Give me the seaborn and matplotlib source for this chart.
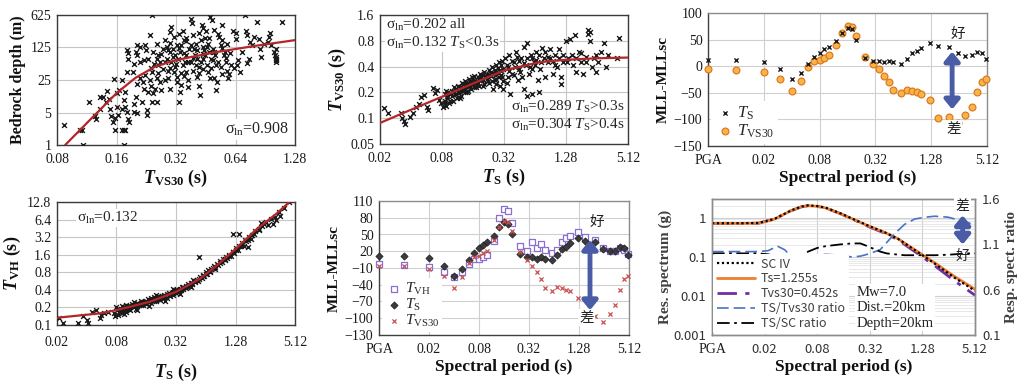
import numpy as np
import pandas as pd
import matplotlib
matplotlib.use("Agg")
import matplotlib.pyplot as plt
import seaborn as sns
from matplotlib.ticker import LogLocator, NullLocator, NullFormatter

# ---------------- data ----------------
# (a) bedrock depth vs T_VS30
depth_pts = [
    (0.087, 2.65), (0.107, 2.07), (0.105, 2.07), (0.108, 1.0), (0.1155, 8.4), (0.124, 4.2), (0.126, 3.7),
    (0.132, 6.0), (0.132, 11), (0.137, 11), (0.141, 8.4), (0.143, 14.5), (0.146, 10), (0.1486, 6.0),
    (0.15, 4.2), (0.153, 3.1), (0.157, 2.07), (0.16, 13), (0.165, 15.5), (0.156, 26.8), (0.171, 25),
    (0.177, 13.8), (0.174, 9.2), (0.177, 6.5), (0.181, 5.1), (0.171, 6.0), (0.174, 2.07), (0.177, 2.07),
    (0.171, 2.07), (0.174, 1.0), (0.161, 6.5), (0.162, 4.35), (0.158, 3.9), (0.181, 110), (0.183, 93),
    (0.182, 72), (0.181, 37), (0.194, 37), (0.197, 56), (0.202, 139), (0.203, 21), (0.2, 11), (0.1955, 7.6),
    (0.1955, 5.1), (0.203, 4.8), (0.184, 3.7), (0.186, 3.1), (0.228, 4.35), (0.229, 5.6), (0.215, 8.4),
    (0.22, 16.3), (0.223, 31.5), (0.22, 66), (0.223, 143), (0.226, 110), (0.2367, 228), (0.241, 617),
    (0.246, 100), (0.248, 56), (0.241, 37), (0.239, 19), (0.241, 8.4), (0.246, 13), (0.2556, 150),
    (0.26, 85), (0.26, 52), (0.257, 27), (0.2656, 22.7), (0.2556, 8.4), (0.27, 15), (0.276, 118),
    (0.281, 180), (0.287, 72), (0.292, 40), (0.29, 27), (0.297, 16), (0.298, 268), (0.303, 345),
    (0.314, 215), (0.31, 118), (0.317, 85), (0.317, 48), (0.322, 29), (0.325, 22.7), (0.3336, 13.8),
    (0.332, 8.4), (0.34, 139), (0.347, 290), (0.353, 180), (0.356, 61), (0.36, 37), (0.366, 25), (0.37, 18),
    (0.38, 522), (0.385, 424), (0.39, 228), (0.395, 118), (0.4, 85), (0.404, 52), (0.41, 29), (0.418, 19),
    (0.424, 11.7), (0.428, 180), (0.434, 374), (0.4365, 72), (0.44, 44), (0.445, 110), (0.4535, 290),
    (0.462, 150), (0.467, 37), (0.471, 100), (0.477, 580), (0.485, 500), (0.49, 66), (0.498, 27),
    (0.509, 15), (0.51, 52), (0.529, 215), (0.539, 139), (0.549, 374), (0.56, 85), (0.571, 61), (0.58, 40),
    (0.593, 34), (0.589, 27), (0.625, 290), (0.64, 258), (0.644, 193), (0.65, 52), (0.66, 66), (0.677, 37),
    (0.69, 100), (0.717, 617), (0.725, 290), (0.728, 228), (0.735, 57), (0.745, 72), (0.76, 164),
    (0.775, 139), (0.79, 215), (0.82, 441), (0.84, 193), (0.85, 118), (0.86, 78), (0.893, 150), (0.93, 164),
    (0.95, 215), (0.96, 258), (0.97, 139), (1.0, 100), (1.01, 85), (1.03, 72), (1.1, 441), (1.03, 118),
    (1.03, 60), (1.03, 66), (1.03, 80), (0.2556, 72), (0.2656, 61), (0.276, 44), (0.287, 125), (0.298, 100),
    (0.303, 61), (0.314, 37), (0.322, 139), (0.328, 72), (0.336, 100), (0.347, 52), (0.36, 85), (0.374, 118),
    (0.38, 61), (0.389, 40), (0.404, 150), (0.41, 72), (0.42, 48), (0.4365, 130), (0.45, 85), (0.458, 52),
    (0.474, 27), (0.49, 118), (0.505, 85), (0.518, 22.7), (0.539, 48), (0.549, 34), (0.566, 100),
    (0.58, 150), (0.61, 52), (0.211, 27), (0.219, 22.7), (0.232, 13.8), (0.2367, 25), (0.25, 16.3),
    (0.211, 61), (0.203, 85), (0.2, 100), (0.21, 130), (0.33, 250), (0.36, 200), (0.42, 260), (0.47, 200),
    (0.5, 300), (0.52, 250), (0.44, 330),
    (0.27, 90), (0.28, 60), (0.29, 110), (0.3, 45), (0.31, 80), (0.32, 55), (0.33, 120), (0.34, 35),
    (0.35, 95), (0.37, 60), (0.38, 140), (0.39, 75), (0.41, 110), (0.43, 60), (0.44, 90), (0.46, 130),
    (0.48, 70), (0.5, 100), (0.52, 60), (0.55, 120), (0.57, 75), (0.6, 95), (0.63, 45), (0.35, 30),
    (0.42, 35), (0.48, 45), (0.3, 160), (0.36, 170), (0.45, 200), (0.55, 180), (0.26, 35), (0.24, 45),
    (0.23, 70), (0.28, 25), (0.34, 20),
]
depth_fit_x = [0.088, 0.12, 0.16, 0.2, 0.25, 0.3, 0.37, 0.5, 0.8, 1.28]
depth_fit_y = [1.0, 3.8, 13, 28, 48, 62, 76, 98, 135, 180]

# (b) T_VS30 vs T_S
tvs30_pts = [
    (0.022, 0.13), (0.024, 0.114), (0.032, 0.114), (0.033, 0.1), (0.034, 0.092), (0.035, 0.086),
    (0.039, 0.104), (0.042, 0.114), (0.045, 0.136), (0.048, 0.146), (0.05, 0.178), (0.054, 0.186),
    (0.057, 0.134), (0.058, 0.125), (0.065, 0.223), (0.069, 0.195), (0.072, 0.213), (0.075, 0.163),
    (0.078, 0.149), (0.081, 0.136),
    (0.085, 0.15), (0.085, 0.16), (0.086, 0.19), (0.087, 0.21), (0.088, 0.14), (0.09, 0.17), (0.091, 0.2),
    (0.093, 0.15), (0.1, 0.18), (0.1, 0.21), (0.102, 0.16), (0.104, 0.23), (0.106, 0.19), (0.11, 0.19),
    (0.11, 0.22), (0.112, 0.17), (0.115, 0.24), (0.12, 0.2), (0.12, 0.23), (0.122, 0.18), (0.125, 0.26),
    (0.127, 0.21), (0.13, 0.22), (0.13, 0.25), (0.133, 0.2), (0.135, 0.27), (0.14, 0.23), (0.14, 0.26),
    (0.142, 0.21), (0.145, 0.29), (0.147, 0.24), (0.15, 0.24), (0.15, 0.27), (0.153, 0.22), (0.155, 0.3),
    (0.16, 0.25), (0.16, 0.28), (0.163, 0.23), (0.165, 0.31), (0.168, 0.26), (0.18, 0.26), (0.18, 0.3),
    (0.183, 0.24), (0.186, 0.33), (0.19, 0.28), (0.2, 0.28), (0.2, 0.32), (0.203, 0.25), (0.206, 0.35),
    (0.21, 0.3), (0.22, 0.29), (0.22, 0.33), (0.225, 0.27), (0.23, 0.37), (0.24, 0.31), (0.24, 0.35),
    (0.243, 0.27), (0.246, 0.4), (0.25, 0.22), (0.26, 0.32), (0.26, 0.37), (0.263, 0.28), (0.266, 0.42),
    (0.27, 0.25), (0.28, 0.34), (0.28, 0.39), (0.284, 0.3), (0.287, 0.45), (0.29, 0.24), (0.3, 0.36),
    (0.3, 0.42), (0.304, 0.3), (0.307, 0.47), (0.31, 0.27), (0.315, 0.22),
    (0.09, 0.18), (0.095, 0.19), (0.105, 0.2), (0.115, 0.2), (0.125, 0.22), (0.135, 0.24), (0.145, 0.25),
    (0.155, 0.26), (0.17, 0.27), (0.19, 0.3), (0.21, 0.31), (0.23, 0.32), (0.25, 0.34), (0.27, 0.35),
    (0.29, 0.37), (0.31, 0.38), (0.095, 0.16), (0.12, 0.17), (0.14, 0.2), (0.17, 0.23), (0.2, 0.24),
    (0.23, 0.26), (0.27, 0.29), (0.3, 0.32),
    (0.33, 0.5), (0.34, 0.26), (0.35, 0.4), (0.35, 0.3), (0.36, 0.55), (0.37, 0.19), (0.38, 0.33),
    (0.4, 0.45), (0.4, 0.32), (0.42, 0.6), (0.44, 0.28), (0.45, 0.38), (0.45, 0.46), (0.47, 0.5),
    (0.48, 0.3), (0.5, 0.67), (0.5, 0.22), (0.52, 0.42), (0.54, 0.75), (0.54, 0.18), (0.56, 0.33),
    (0.58, 0.55), (0.6, 0.19), (0.6, 0.38), (0.62, 0.45), (0.65, 0.6), (0.66, 0.48), (0.68, 0.28),
    (0.7, 0.2), (0.72, 0.38), (0.75, 0.66), (0.78, 0.5), (0.8, 0.3), (0.85, 0.45), (0.9, 0.64), (0.9, 0.5),
    (0.95, 0.33), (1.0, 0.55), (1.05, 0.4), (1.1, 0.65), (1.15, 0.3), (1.15, 0.25), (1.2, 0.45),
    (1.28, 0.8), (1.35, 0.5), (1.4, 0.84), (1.5, 0.42), (1.55, 0.93), (1.6, 0.35), (1.7, 0.6), (1.8, 0.45),
    (1.87, 0.33), (2.0, 0.52), (2.08, 1.07), (2.1, 0.95), (2.2, 0.8), (2.2, 1.02), (2.3, 0.4), (2.5, 0.55),
    (2.5, 0.35), (2.6, 0.45), (2.8, 0.6), (3.0, 0.75), (3.1, 0.4), (3.3, 0.55), (4.0, 0.5), (4.2, 0.86),
    (0.34, 0.42), (0.36, 0.36), (0.38, 0.47), (0.41, 0.4), (0.43, 0.52), (0.46, 0.35), (0.5, 0.44),
    (0.53, 0.5), (0.57, 0.4), (0.6, 0.5), (0.64, 0.42), (0.7, 0.55), (0.74, 0.45), (0.8, 0.6), (0.85, 0.52),
    (0.95, 0.47), (1.0, 0.42), (1.1, 0.5), (1.2, 0.55), (1.3, 0.45), (1.45, 0.55), (1.6, 0.5), (1.8, 0.58),
    (2.0, 0.45), (2.4, 0.5),
]
tvs30_fit_x = [0.02, 0.036, 0.08, 0.16, 0.32, 0.7, 1.28, 2.5, 5.12]
tvs30_fit_y = [0.088, 0.119, 0.178, 0.254, 0.36, 0.45, 0.48, 0.5, 0.51]

# (d) T_VH vs T_S
tvh_pts = [
    (0.021, 0.13), (0.023, 0.11), (0.033, 0.11), (0.041, 0.107), (0.037, 0.14), (0.045, 0.17), (0.05, 0.18),
    (0.054, 0.13), (0.056, 0.15), (0.04, 0.12), (0.06, 0.16), (0.065, 0.17),
    (0.075, 0.16), (0.078, 0.14), (0.08, 0.2), (0.082, 0.15), (0.085, 0.17), (0.088, 0.19), (0.09, 0.16),
    (0.092, 0.21), (0.095, 0.18), (0.098, 0.2), (0.1, 0.17), (0.1, 0.22), (0.105, 0.19), (0.11, 0.21),
    (0.11, 0.18), (0.115, 0.23), (0.12, 0.2), (0.12, 0.22), (0.125, 0.19), (0.13, 0.24), (0.13, 0.21),
    (0.135, 0.23), (0.14, 0.22), (0.14, 0.26), (0.145, 0.24), (0.15, 0.22), (0.15, 0.25), (0.16, 0.26),
    (0.16, 0.23), (0.165, 0.28), (0.17, 0.25), (0.175, 0.27), (0.18, 0.24), (0.18, 0.29), (0.19, 0.27),
    (0.19, 0.3), (0.2, 0.26), (0.2, 0.29), (0.21, 0.28), (0.21, 0.32), (0.22, 0.3), (0.22, 0.27),
    (0.23, 0.31), (0.24, 0.29), (0.24, 0.33), (0.25, 0.31), (0.26, 0.34), (0.26, 0.29), (0.27, 0.36),
    (0.28, 0.32), (0.29, 0.35), (0.3, 0.37), (0.3, 0.33), (0.31, 0.39), (0.32, 0.36), (0.33, 0.4),
    (0.34, 0.38), (0.35, 0.42), (0.36, 0.39), (0.37, 0.44), (0.38, 0.41), (0.4, 0.47), (0.4, 0.43),
    (0.42, 0.5), (0.44, 0.47), (0.45, 0.53), (0.47, 0.52), (0.48, 0.58), (0.5, 0.55), (0.52, 0.6),
    (0.54, 0.57), (0.56, 0.67), (0.58, 0.64), (0.6, 0.72), (0.62, 0.68), (0.64, 0.8), (0.66, 0.75),
    (0.68, 0.86), (0.7, 0.82), (0.72, 0.9), (0.75, 0.95), (0.78, 1.02), (0.8, 0.92), (0.83, 1.1),
    (0.86, 1.05), (0.9, 1.25), (0.93, 1.18), (0.96, 1.35), (1.0, 1.3), (1.03, 1.45), (1.06, 1.4),
    (1.1, 1.6), (1.15, 1.55), (1.2, 1.8), (1.25, 1.7), (1.3, 2.05), (1.35, 1.95), (1.4, 2.3), (1.5, 2.5),
    (1.55, 2.3), (1.6, 2.9), (1.75, 3.2), (1.85, 3.0), (2.0, 4.0), (2.2, 4.5), (2.4, 5.0), (2.6, 5.8),
    (2.9, 6.5), (3.2, 7.0),
    (0.085, 0.19), (0.09, 0.18), (0.095, 0.2), (0.1, 0.19), (0.105, 0.21), (0.11, 0.2), (0.115, 0.21),
    (0.12, 0.21), (0.125, 0.22), (0.13, 0.23), (0.135, 0.22), (0.14, 0.24), (0.15, 0.235), (0.155, 0.25),
    (0.16, 0.24), (0.17, 0.26), (0.18, 0.27), (0.19, 0.26), (0.2, 0.28), (0.21, 0.29), (0.22, 0.29),
    (0.23, 0.3), (0.24, 0.31), (0.25, 0.32), (0.27, 0.33), (0.28, 0.34), (0.3, 0.35), (0.32, 0.38),
    (0.34, 0.4), (0.36, 0.42), (0.38, 0.44), (0.42, 0.47), (0.46, 0.5), (0.5, 0.57), (0.55, 0.62),
    (0.6, 0.68), (0.65, 0.76), (0.7, 0.85), (0.8, 1.0), (0.9, 1.15), (1.0, 1.35), (1.1, 1.5), (1.2, 1.75),
    (1.3, 1.9), (1.45, 2.3), (1.7, 2.9), (1.9, 3.5), (2.2, 4.2), (2.5, 5.3), (3.5, 8.5), (4.0, 10.0),
    (0.095, 0.155), (0.13, 0.18), (0.17, 0.21), (0.25, 0.26), (0.35, 0.34), (0.45, 0.45), (0.12, 0.25),
    (0.2, 0.33), (0.3, 0.41),
    (0.55, 1.46), (1.2, 3.6), (1.4, 3.6), (1.65, 2.8), (1.7, 2.2), (1.95, 3.6), (2.3, 5.7), (2.7, 5.1),
    (3.1, 5.4), (3.3, 6.2), (3.6, 7.4), (4.5, 12.8),
]
tvh_fit_x = [0.02, 0.054, 0.08, 0.174, 0.32, 0.56, 0.83, 1.28, 2.1, 3.3, 4.5]
tvh_fit_y = [0.133, 0.158, 0.18, 0.25, 0.37, 0.62, 1.05, 2.0, 4.4, 8.0, 12.8]

# (c)/(e) MLL - MLLsc per spectral period (PGA plotted at 0.005 s)
periods = [0.005, 0.01, 0.02, 0.03, 0.04, 0.05, 0.06, 0.07, 0.08, 0.09, 0.1, 0.12, 0.14, 0.16, 0.18,
           0.2, 0.25, 0.3, 0.35, 0.4, 0.45, 0.5, 0.6, 0.7, 0.8, 0.9, 1.0, 1.25, 1.5, 2.0, 2.5, 3.0,
           3.5, 4.0, 4.5, 5.0]
mll_ts = [12, 12, 8, -6, -25, -12, 4, 17, 25, 32, 37, 48, 63, 72, 69, 50, 15, 9, 10, 7, 10, 7, 5,
          13, 24, 28, 34, 43, 38, 37, 24, 20, 21, 27, 25, 13]
mll_tvs30 = [-6, -7, -11, -24, -46, -27, -1, 9, 12, 16, 21, 40, 63, 75, 73, 56, 18, 4, -6, -18, -29,
             -45, -51, -44, -46, -49, -52, -64, -98, -96, -107, -92, -76, -49, -30, -24]
mll_tvh = [-2, -4, -8, -17, -26, -17, -3, 6, 7, 10, 14, 39, 79, 95, 92, 70, 29, 20, 36, 26, 33, 23,
           17, 23, 36, 44, 48, 54, 45, 41, 25, 20, 20, 26, 23, 15]

# (f) response spectra and ratios
spec_periods = [0.005, 0.01, 0.017, 0.026, 0.04, 0.053, 0.063, 0.08, 0.1, 0.151, 0.2, 0.305, 0.475,
                0.67, 1.05, 1.77, 3.0, 5.12]
spec_sc4 = [0.72, 0.72, 0.73, 0.93, 1.52, 1.92, 2.06, 1.98, 1.8, 1.26, 0.95, 0.63, 0.42, 0.29, 0.148,
            0.067, 0.029, 0.0135]
spec_ts = [0.71, 0.71, 0.72, 0.92, 1.5, 1.9, 2.02, 1.95, 1.77, 1.24, 0.94, 0.62, 0.42, 0.29, 0.15,
           0.07, 0.031, 0.0148]
spec_tvs30 = [0.71, 0.71, 0.72, 0.92, 1.5, 1.9, 2.02, 1.95, 1.77, 1.24, 0.93, 0.6, 0.4, 0.272, 0.135,
              0.059, 0.024, 0.0104]
ratio_periods = [0.005, 0.01, 0.017, 0.022, 0.028, 0.034, 0.04, 0.05, 0.063, 0.08, 0.1, 0.15, 0.2,
                 0.25, 0.3, 0.42, 0.5, 0.62, 0.8, 1.05, 1.4, 1.77, 2.5, 3.0, 4.0, 5.12]
ratio_ts_tvs30 = [1.02, 1.02, 1.02, 1.03, 1.08, 1.04, 0.97, 0.95, 0.97, 0.98, 0.99, 0.98, 0.96, 0.97,
                  0.99, 1.04, 1.12, 1.22, 1.32, 1.38, 1.40, 1.41, 1.40, 1.38, 1.35, 1.31]
ratio_ts_sc = [1.0, 1.0, 1.0, 0.99, 0.965, 0.945, 0.945, 0.95, 1.02, 1.06, 1.08, 1.1, 1.11, 1.11, 1.08,
               1.02, 1.0, 0.99, 0.98, 0.98, 0.98, 0.98, 0.985, 0.99, 1.0, 1.0]

# ---------------- style ----------------
sns.set_theme(style="white")
rc = {
    "font.family": ["Liberation Serif", "Noto Sans CJK SC", "DejaVu Sans"],
    "mathtext.fontset": "custom",
    "mathtext.rm": "Liberation Serif",
    "mathtext.it": "Liberation Serif:italic",
    "mathtext.bf": "Liberation Serif:bold",
    "xtick.labelsize": 10,
    "ytick.labelsize": 10,
    "xtick.color": "#1a1a1a",
    "ytick.color": "#1a1a1a",
    "axes.labelcolor": "#111111",
}
if "mathtext.bfit" in plt.rcParams:
    rc["mathtext.bfit"] = "Liberation Serif:italic:bold"
plt.rcParams.update(rc)

CJK = ["Noto Sans CJK SC", "DejaVu Sans"]
SANS = ["Noto Sans CJK SC", "DejaVu Sans"]
ARROW_C = "#4a5ca6"
FIT_C = "#b3262a"
GRID_C = "#c6c6c6"

T_VS30 = r"$\mathbfit{T}_\mathbf{VS30}$ (s)"
T_S = r"$\mathbfit{T}_\mathbf{S}$ (s)"
T_VH = r"$\mathbfit{T}_\mathbf{VH}$ (s)"
SIG = r"$\mathrm{\sigma}_\mathrm{ln}$"

fig = plt.figure(figsize=(10.24, 3.85), dpi=100)


def add_ax(left, top, right, bottom):
    return fig.add_axes([left / 1024, 1 - bottom / 385, (right - left) / 1024, (bottom - top) / 385])


def frame(ax, color="#3a3a3a"):
    for s in ax.spines.values():
        s.set_color(color)
        s.set_linewidth(1.0)
    ax.tick_params(which="both", length=0)
    ax.tick_params(axis="x", pad=6)
    ax.tick_params(axis="y", pad=4)
    ax.set_axisbelow(True)


def log_axis(ax, which, base, lim, ticks, labels):
    if which == "x":
        ax.set_xscale("log", base=base)
        ax.set_xlim(*lim)
        ax.set_xticks(ticks, labels)
        ax.xaxis.set_minor_locator(NullLocator())
    else:
        ax.set_yscale("log", base=base)
        ax.set_ylim(*lim)
        ax.set_yticks(ticks, labels)
        ax.yaxis.set_minor_locator(NullLocator())


def cloud(ax, pts, fit_x, fit_y):
    df = pd.DataFrame(pts, columns=["x", "y"])
    sns.scatterplot(data=df, x="x", y="y", ax=ax, marker="x", color="#1a1a1a", s=12,
                    linewidth=1.0, zorder=3, legend=False)
    sns.lineplot(x=fit_x, y=fit_y, ax=ax, color=FIT_C, lw=1.6, zorder=4, legend=False)
    ax.grid(True, which="major", color=GRID_C, lw=0.8)


ax1 = add_ax(57, 15, 295, 145)
ax2 = add_ax(380, 15, 628, 144)
ax3 = add_ax(708, 13, 987, 146)
ax4 = add_ax(57, 202, 295, 325)
ax5 = add_ax(379, 201, 629, 335)
ax6 = add_ax(712, 199, 975, 335)

ts_ticks = [0.02, 0.08, 0.32, 1.28, 5.12]
ts_labels = ["0.02", "0.08", "0.32", "1.28", "5.12"]

# ---- (a) ----
log_axis(ax1, "x", 2, (0.08, 1.28), [0.08, 0.16, 0.32, 0.64, 1.28], ["0.08", "0.16", "0.32", "0.64", "1.28"])
log_axis(ax1, "y", 5, (1, 625), [1, 5, 25, 125, 625], ["1", "5", "25", "125", "625"])
ax1.yaxis.set_minor_locator(LogLocator(base=5, subs=(1.5, 2, 2.5, 3, 3.5, 4, 4.5)))
ax1.yaxis.set_minor_formatter(NullFormatter())
cloud(ax1, depth_pts, depth_fit_x, depth_fit_y)
ax1.grid(True, which="minor", axis="y", color="#dcdcdc", lw=0.5)
frame(ax1)
ax1.set_xlabel(T_VS30, fontsize=13, fontweight="bold", labelpad=1)
ax1.set_ylabel("Bedrock depth (m)", fontsize=11.5, fontweight="bold", labelpad=3)
ax1.text(0.975, 0.12, SIG + "=0.908", transform=ax1.transAxes, ha="right", va="center", fontsize=11.5,
         bbox=dict(facecolor="white", edgecolor="none", pad=1), zorder=6)

# ---- (b) ----
log_axis(ax2, "x", 2, (0.02, 5.12), ts_ticks, ts_labels)
log_axis(ax2, "y", 2, (0.05, 1.6), [0.05, 0.1, 0.2, 0.4, 0.8, 1.6], ["0.05", "0.1", "0.2", "0.4", "0.8", "1.6"])
cloud(ax2, tvs30_pts, tvs30_fit_x, tvs30_fit_y)
frame(ax2)
ax2.set_xlabel(T_S, fontsize=13, fontweight="bold", labelpad=1)
ax2.set_ylabel(T_VS30, fontsize=13, fontweight="bold", labelpad=2)
box = dict(facecolor="white", edgecolor="none", pad=0.5)
ax2.text(0.025, 0.92, SIG + "=0.202 all", transform=ax2.transAxes, va="center", fontsize=11, bbox=box, zorder=6)
ax2.text(0.025, 0.785, SIG + r"=0.132 $\mathit{T}_\mathrm{S}$<0.3s", transform=ax2.transAxes, va="center",
         fontsize=11, bbox=box, zorder=6)
ax2.text(0.53, 0.285, SIG + r"=0.289 $\mathit{T}_\mathrm{S}$>0.3s", transform=ax2.transAxes, va="center",
         fontsize=11, zorder=6)
ax2.text(0.53, 0.15, SIG + r"=0.304 $\mathit{T}_\mathrm{S}$>0.4s", transform=ax2.transAxes, va="center",
         fontsize=11, zorder=6)

# ---- (d) ----
log_axis(ax4, "x", 2, (0.02, 5.12), ts_ticks, ts_labels)
log_axis(ax4, "y", 2, (0.1, 12.8), [0.1, 0.2, 0.4, 0.8, 1.6, 3.2, 6.4, 12.8],
         ["0.1", "0.2", "0.4", "0.8", "1.6", "3.2", "6.4", "12.8"])
cloud(ax4, tvh_pts, tvh_fit_x, tvh_fit_y)
frame(ax4)
ax4.tick_params(axis="x", pad=8)
ax4.set_xlabel(T_S, fontsize=13, fontweight="bold", labelpad=9)
ax4.set_ylabel(T_VH, fontsize=13, fontweight="bold", labelpad=3)
ax4.text(0.085, 0.87, SIG + "=0.132", transform=ax4.transAxes, va="center", fontsize=11, bbox=box, zorder=6)

# ---- MLL panels ----
sp_ticks = [0.005, 0.02, 0.08, 0.32, 1.28, 5.12]
sp_labels = ["PGA", "0.02", "0.08", "0.32", "1.28", "5.12"]


def mll_frame(ax):
    frame(ax, "#8c8c8c")
    ax.spines["left"].set_color("#404040")
    ax.spines["bottom"].set_color("#404040")
    ax.grid(True, which="major", color="#d0d0d0", lw=0.8)
    ax.set_xlabel("Spectral period (s)", fontsize=12.5, fontweight="bold", labelpad=2)
    ax.set_ylabel("MLL-MLLsc", fontsize=11, fontweight="bold", labelpad=3)


def updown(ax, x, y0, y1, good_xy, bad_xy, fs=10.5):
    ax.annotate("", xy=(x, y1), xytext=(x, y0), xycoords="axes fraction",
                arrowprops=dict(arrowstyle="<|-|>,head_length=0.55,head_width=0.45", color=ARROW_C,
                                lw=3.5, mutation_scale=10, shrinkA=0, shrinkB=0), zorder=7)
    ax.text(*good_xy, "好", transform=ax.transAxes, ha="center", va="center", fontsize=fs, family=CJK,
            color="#222222", zorder=8)
    ax.text(*bad_xy, "差", transform=ax.transAxes, ha="center", va="center", fontsize=fs, family=CJK,
            color="#222222", zorder=8, bbox=dict(facecolor="white", edgecolor="none", pad=1.2))


# ---- (c) ----
log_axis(ax3, "x", 2, (0.005, 5.12), sp_ticks, sp_labels)
ax3.set_ylim(-150, 100)
ax3.set_yticks(range(-150, 101, 50))
mll_frame(ax3)
sns.scatterplot(x=periods, y=mll_ts, ax=ax3, marker="x", color="#1a1a1a", s=9, linewidth=1.0,
                label=r"$\mathit{T}_\mathrm{S}$", zorder=4, clip_on=False, legend=False)
sns.scatterplot(x=periods, y=mll_tvs30, ax=ax3, marker="o", facecolor="#f9b447", edgecolor="#de7a22",
                s=24, linewidth=0.9, label=r"$\mathit{T}_\mathrm{VS30}$", zorder=3, clip_on=False, legend=False)
ax3.legend(loc="lower left", fontsize=12, frameon=True, facecolor="white", edgecolor="none", framealpha=1,
           handletextpad=0.1, labelspacing=0.05, borderaxespad=0.15, handlelength=1.3, borderpad=0.2)
updown(ax3, 0.875, 0.275, 0.71, (0.895, 0.84), (0.88, 0.13))

# ---- (e) ----
log_axis(ax5, "x", 2, (0.005, 5.12), sp_ticks, sp_labels)
ax5.set_ylim(-130, 110)
ax5.set_yticks(range(-130, 111, 30))
mll_frame(ax5)
sns.scatterplot(x=periods, y=mll_tvh, ax=ax5, marker="s", facecolor="white", edgecolor="#8b6fd0",
                s=13, linewidth=0.9, label=r"$\mathit{T}_\mathrm{VH}$", zorder=3, clip_on=False, legend=False)
sns.scatterplot(x=periods, y=mll_ts, ax=ax5, marker="D", facecolor="#3c3c3c", edgecolor="#222222",
                s=13, linewidth=0.6, label=r"$\mathit{T}_\mathrm{S}$", zorder=4, clip_on=False, legend=False)
sns.scatterplot(x=periods, y=mll_tvs30, ax=ax5, marker="x", color="#c8504f", s=9, linewidth=0.9,
                label=r"$\mathit{T}_\mathrm{VS30}$", zorder=5, clip_on=False, legend=False)
ax5.legend(loc="lower left", fontsize=11, frameon=True, facecolor="white", edgecolor="none", framealpha=1,
           handletextpad=0.1, labelspacing=0.0, borderaxespad=0.2, handlelength=1.2, borderpad=0.2)
updown(ax5, 0.844, 0.185, 0.71, (0.872, 0.845), (0.83, 0.13))

# ---- (f) ----
log_axis(ax6, "x", 2, (0.005, 5.12), sp_ticks, sp_labels)
ax6.set_yscale("log")
ax6.set_ylim(0.001, 3)
ax6.set_yticks([0.001, 0.01, 0.1, 1], ["0.001", "0.01", "0.1", "1"])
ax6.yaxis.set_minor_locator(LogLocator(base=10, subs=np.arange(2, 10)))
ax6.yaxis.set_minor_formatter(NullFormatter())
frame(ax6, "#8c8c8c")
ax6.grid(True, which="major", color="#cfcfcf", lw=0.8)
ax6.grid(True, which="minor", axis="y", color="#dedede", lw=0.5)
sns.lineplot(x=spec_periods, y=spec_sc4, ax=ax6, color="black", linestyle=(0, (1, 1.2)), lw=1.6,
             label="SC IV", legend=False, zorder=5)
sns.lineplot(x=spec_periods, y=spec_ts, ax=ax6, color="#ed7d31", lw=2.0, label="Ts=1.255s",
             legend=False, zorder=4)
sns.lineplot(x=spec_periods, y=spec_tvs30, ax=ax6, color="#7030a0", linestyle=(0, (7, 3, 1.5, 3)), lw=2.0,
             label="Tvs30=0.452s", legend=False, zorder=3)
ax6b = ax6.twinx()
ax6b.set_ylim(0.1, 1.6)
ax6b.set_yticks([0.1, 0.6, 1.1, 1.6], ["0.1", "0.6", "1.1", "1.6"])
ax6b.grid(False)
sns.lineplot(x=ratio_periods, y=ratio_ts_tvs30, ax=ax6b, color="#4a73c4", linestyle=(0, (7, 3)), lw=1.2,
             label="TS/Tvs30 ratio", legend=False)
sns.lineplot(x=ratio_periods, y=ratio_ts_sc, ax=ax6b, color="black", linestyle=(0, (7, 2.5, 1.5, 2.5)),
             lw=1.3, label="TS/SC ratio", legend=False)
frame(ax6b, "#8c8c8c")
ax6b.tick_params(axis="y", pad=5)
for a in (ax6, ax6b):
    for lab in a.get_yticklabels():
        lab.set_fontfamily(SANS)
        lab.set_color("#333333")
        lab.set_fontsize(9.5)
for i, lab in enumerate(ax6.get_xticklabels()):
    if i > 0:
        lab.set_fontfamily(SANS)
        lab.set_color("#333333")
        lab.set_fontsize(9.5)
ax6.set_xlabel("Spectral period (s)", fontsize=12.5, fontweight="bold", labelpad=2)
ax6.set_ylabel("Res. spectrum (g)", fontsize=11, fontweight="bold", color="#404040", labelpad=1)
ax6b.set_ylabel("Resp. spect. ratio", fontsize=11, fontweight="bold", color="#404040", labelpad=3)
h1, l1 = ax6.get_legend_handles_labels()
h2, l2 = ax6b.get_legend_handles_labels()
leg = ax6b.legend(h1 + h2, l1 + l2, loc="lower left", prop={"family": SANS, "size": 9}, frameon=True,
                  facecolor="white", edgecolor="none", framealpha=1, handlelength=3.0, handletextpad=0.5,
                  labelspacing=0.15, borderaxespad=0.1, borderpad=0.3)
for t in leg.get_texts():
    t.set_color("#404040")
ax6b.text(0.55, 0.04, "Mw=7.0\nDist.=20km\nDepth=20km", transform=ax6b.transAxes, ha="left", va="bottom",
          fontsize=10.5, linespacing=1.25, color="#222222", zorder=8,
          bbox=dict(facecolor="white", edgecolor="none", pad=1))
updown(ax6b, 0.953, 0.665, 0.88, (0.953, 0.58), (0.953, 0.945), fs=10)

fig.savefig("out.png", dpi=100, facecolor="white")
